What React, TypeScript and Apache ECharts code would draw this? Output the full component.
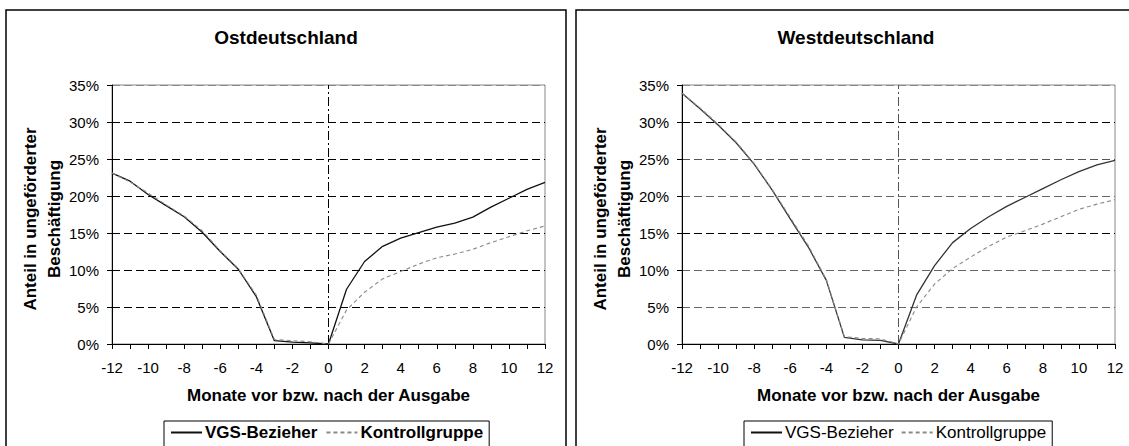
import React, { useEffect, useRef } from "react";
import * as echarts from "echarts";

const months = [-12, -11, -10, -9, -8, -7, -6, -5, -4, -3, -2, -1, 0, 1, 2, 3, 4, 5, 6, 7, 8, 9, 10, 11, 12];

const ostVGS = [23.1, 22.0, 20.2, 18.7, 17.2, 15.1, 12.5, 10.1, 6.4, 0.45, 0.25, 0.15, 0, 7.4, 11.15, 13.2, 14.3, 15.05, 15.8, 16.35, 17.15, 18.5, 19.7, 20.9, 21.85];
const ostKontroll = [23.1, 21.9, 20.4, 18.8, 17.3, 15.3, 12.6, 10.2, 6.6, 0.6, 0.45, 0.3, 0, 4.6, 7.0, 8.8, 9.8, 10.8, 11.65, 12.15, 12.8, 13.7, 14.5, 15.3, 15.95];
const westVGS = [33.9, 31.8, 29.6, 27.2, 24.3, 20.8, 16.9, 13.1, 8.6, 0.9, 0.55, 0.5, 0, 6.6, 10.6, 13.7, 15.6, 17.2, 18.6, 19.8, 21.0, 22.2, 23.3, 24.2, 24.8];
const westKontroll = [33.9, 31.9, 29.7, 27.3, 24.4, 20.9, 17.1, 13.3, 8.7, 1.0, 0.75, 0.7, 0, 5.0, 8.1, 10.2, 11.75, 13.2, 14.45, 15.3, 16.2, 17.2, 18.2, 18.9, 19.5];

// reference line at month 0 (spans the full y range)
const zeroLine = [[0, 0], [0, 35]];

const titles = ["Ostdeutschland", "Westdeutschland"];
const seriesNames = ["VGS-Bezieher", "Kontrollgruppe"];
const xName = "Monate vor bzw. nach der Ausgabe";
const yName = "Anteil in ungeförderter\nBeschäftigung";

const FONT = '"Liberation Sans", Arial, Helvetica, sans-serif';

function pairs(vals: number[]) {
  return months.map((m, i) => [m, vals[i]]);
}

export default function App() {
  const ref = useRef<HTMLDivElement>(null);
  useEffect(() => {
    if (!ref.current) return;
    const chart = echarts.init(ref.current, undefined, { renderer: "svg" });

    const grids = [
      { left: 112, top: 85, width: 433, height: 259 },
      { left: 682, top: 85, width: 433, height: 259 },
    ];
    const splitColors = [
      ["#000", "#000", "#000", "#000", "#000", "#000", "#000", "#888"],
      ["#000", "#666", "#666", "#000", "#666", "#555", "#000", "#888"],
    ];

    const xAxes = grids.map((_, gi) => ({
      type: "value",
      gridIndex: gi,
      min: -12,
      max: 12,
      interval: 2,
      name: xName,
      nameLocation: "middle",
      nameGap: 43,
      nameTextStyle: { fontFamily: FONT, fontSize: 17, fontWeight: "bold", color: "#000" },
      axisLine: { show: true, onZero: false, lineStyle: { color: "#000", width: 1 } },
      axisTick: { show: true, length: 5, lineStyle: { color: "#000", width: 1 } },
      minorTick: { show: true, splitNumber: 2, length: 5, lineStyle: { color: "#000", width: 1 } },
      axisLabel: { fontFamily: FONT, fontSize: 15, color: "#000", margin: 16 },
      splitLine: { show: false },
      minorSplitLine: { show: false },
    }));

    const yAxes = grids.map((_, gi) => ({
      type: "value",
      gridIndex: gi,
      min: 0,
      max: 35,
      interval: 5,
      axisLine: { show: true, onZero: false, lineStyle: { color: "#000", width: 1 } },
      axisTick: { show: true, length: 5, lineStyle: { color: "#000", width: 1 } },
      axisLabel: { fontFamily: FONT, fontSize: 15, color: "#000", margin: 13, formatter: "{value}%" },
      splitLine: { show: true, lineStyle: { color: splitColors[gi], type: [8, 4], width: 1 } },
    }));

    const datasets = [
      [ostVGS, ostKontroll],
      [westVGS, westKontroll],
    ];
    const lineColors = [
      ["#111", "#8a8a8a"],
      ["#333", "#8a8a8a"],
    ];

    const series: any[] = [];
    datasets.forEach((pair, gi) => {
      series.push({
        type: "line",
        name: "Monat 0",
        xAxisIndex: gi,
        yAxisIndex: gi,
        data: zeroLine,
        symbol: "none",
        showSymbol: false,
        silent: true,
        lineStyle: { color: gi === 0 ? "#000" : "#555", type: [9, 3, 2, 3], width: 1 },
        z: 2,
      });
      pair.forEach((vals, si) => {
        series.push({
          type: "line",
          name: seriesNames[si],
          xAxisIndex: gi,
          yAxisIndex: gi,
          data: pairs(vals),
          symbol: "none",
          showSymbol: false,
          lineStyle: {
            color: lineColors[gi][si],
            width: si === 0 ? 1.3 : 1.1,
            type: si === 0 ? "solid" : [4, 3],
          },
          itemStyle: { color: lineColors[gi][si] },
          z: si === 0 ? 3 : 4,
        });
      });
    });

    const legends = [
      { left: 164, fontWeight: "bold", gap: 8 },
      { left: 744, fontWeight: "normal", gap: 7 },
    ].map((l) => ({
      left: l.left,
      top: 421,
      data: seriesNames,
      orient: "horizontal",
      itemWidth: 31,
      itemHeight: 14,
      itemGap: l.gap,
      selectedMode: false,
      itemStyle: { color: "transparent", borderColor: "transparent", borderWidth: 0, opacity: 0 },
      textStyle: { fontFamily: FONT, fontSize: 17, fontWeight: l.fontWeight, color: "#000", padding: [0, 0, 0, -2] },
      borderColor: "#000",
      borderWidth: 1,
      borderRadius: 0,
      padding: [3, 6, 14, 6],
      backgroundColor: "#fff",
    }));

    const panelCenters = [286, 856];
    const graphic: any[] = [
      { type: "rect", shape: { x: 6, y: 10, width: 560, height: 470 }, style: { fill: "none", stroke: "#000", lineWidth: 1.5 }, z: -10, silent: true },
      { type: "rect", shape: { x: 576, y: 10, width: 570, height: 470 }, style: { fill: "none", stroke: "#000", lineWidth: 1.5 }, z: -10, silent: true },
    ];
    titles.forEach((t, i) => {
      graphic.push({
        type: "text",
        x: panelCenters[i],
        y: 37.5,
        style: {
          text: t,
          fontFamily: FONT,
          fontSize: 19,
          fontWeight: "bold",
          fill: "#000",
          align: "center",
          verticalAlign: "middle",
          textAlign: "center",
          textVerticalAlign: "middle",
        },
        silent: true,
      });
    });
    [42, 612].forEach((x) => {
      graphic.push({
        type: "text",
        x,
        y: 219,
        rotation: Math.PI / 2,
        style: {
          text: yName,
          fontFamily: FONT,
          fontSize: 17,
          fontWeight: "bold",
          fill: "#000",
          lineHeight: 24,
          align: "center",
          verticalAlign: "middle",
          textAlign: "center",
          textVerticalAlign: "middle",
        },
        silent: true,
      });
    });

    chart.setOption({
      animation: false,
      backgroundColor: "#fff",
      grid: grids.map((g) => ({ ...g, show: true, borderColor: "#888", borderWidth: 1, backgroundColor: "transparent", containLabel: false })),
      xAxis: xAxes,
      yAxis: yAxes,
      legend: legends,
      series,
      graphic,
    } as any);

    return () => chart.dispose();
  }, []);

  return <div ref={ref} style={{ position: "absolute", left: 0, top: 0, width: 1129, height: 446 }} />;
}
